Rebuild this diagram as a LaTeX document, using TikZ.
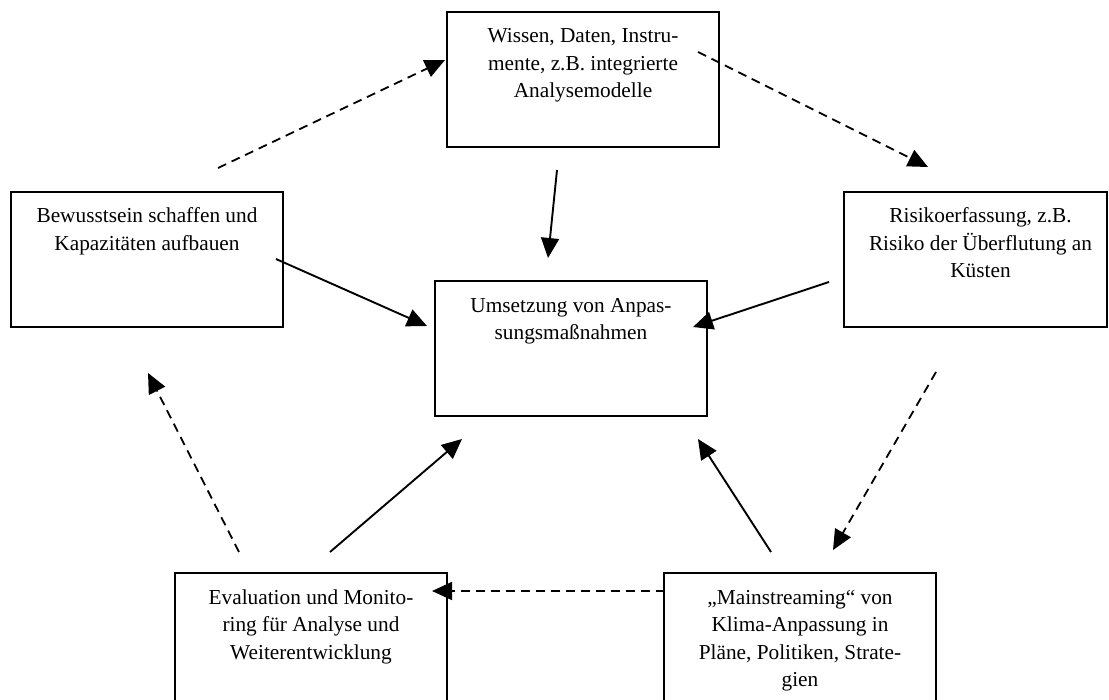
\documentclass[tikz,border=0pt]{standalone}
\usepackage{fontspec}
\setmainfont{Liberation Serif}
\usetikzlibrary{arrows.meta}
% text sits at the top of each box, not in its middle
\newcommand{\boxtext}[2][272pt]{\parbox[c][135pt][t]{#1}{\centering\rule{0pt}{31pt}#2}}
\tikzset{
  every picture/.append style = {line width=1.8pt, >={Triangle[length=20pt, width=18pt]}},
  box/.style  = {draw, rectangle, inner sep=0pt, minimum width=272pt,
                 minimum height=135pt, line width=2pt,
                 font=\fontsize{21.3}{27.5}\selectfont},
  flow/.style = {->, line width=1.9pt},
  feed/.style = {->, line width=1.8pt, dash pattern=on 9pt off 6pt},
}

\begin{document}
\begin{tikzpicture}[x=1pt,y=-1pt]
  \useasboundingbox (0,0) rectangle (1109,700);
  % --- boxes -----------------------------------------------------------------
  \node[box] (wissen) at (583,79.5)
    {\boxtext{Wissen, Daten, Instru-\\mente, z.B. integrierte\\Analysemodelle}};
  \node[box] (bewusst) at (147,259.5)
    {\boxtext{Bewusstsein schaffen und\\Kapazitäten aufbauen}};
  \node[box, minimum width=263pt] (risiko) at (975.5,259.5)
    {\boxtext[263pt]{\hspace*{10pt}Risikoerfassung, z.B.\\\hspace*{10pt}Risiko der Überflutung an\\\hspace*{10pt}Küsten}};
  \node[box] (umsetz) at (571,349)
    {\boxtext{Umsetzung von Anpas-\\sungsmaßnahmen}};
  \node[box] (eval) at (311,640.5)
    {\boxtext{Evaluation und Monito-\\ring für Analyse und\\Weiterentwicklung}};
  \node[box] (mainstr) at (800,640.5)
    {\boxtext{„Mainstreaming“ von\\Klima-Anpassung in\\Pläne, Politiken, Strate-\\gien}};
  % --- arrow ends ------------------------------------------------------------
  \coordinate (bew-up)   at (218,168);  \coordinate (wis-in)   at (445,60);
  \coordinate (wis-out)  at (698,52);   \coordinate (ris-in)   at (928,167);
  \coordinate (ris-out)  at (936,372);  \coordinate (main-in)  at (833,550);
  \coordinate (main-out) at (665,591);  \coordinate (eval-in)  at (432,591);
  \coordinate (eval-out) at (239,552);  \coordinate (bew-in)   at (148,373);
  \coordinate (wis-dn)   at (557,170);  \coordinate (ums-n)    at (548,258);
  \coordinate (bew-rt)   at (276,259);  \coordinate (ums-w)    at (427,326);
  \coordinate (ris-lt)   at (829,282);  \coordinate (ums-e)    at (693,327);
  \coordinate (main-up)  at (771,552);  \coordinate (ums-se)   at (698,439);
  \coordinate (eval-up)  at (330,552);  \coordinate (ums-sw)   at (462,439);
  % --- the outer cycle (dashed) ---------------------------------------------
  \foreach \a/\b in {bew-up/wis-in, wis-out/ris-in, ris-out/main-in,
                     main-out/eval-in, eval-out/bew-in}
    \draw[feed] (\a) -- (\b);
  % --- everything feeds the measures ----------------------------------------
  \foreach \a/\b in {wis-dn/ums-n, bew-rt/ums-w, ris-lt/ums-e,
                     main-up/ums-se, eval-up/ums-sw}
    \draw[flow] (\a) -- (\b);
\end{tikzpicture}
\end{document}
